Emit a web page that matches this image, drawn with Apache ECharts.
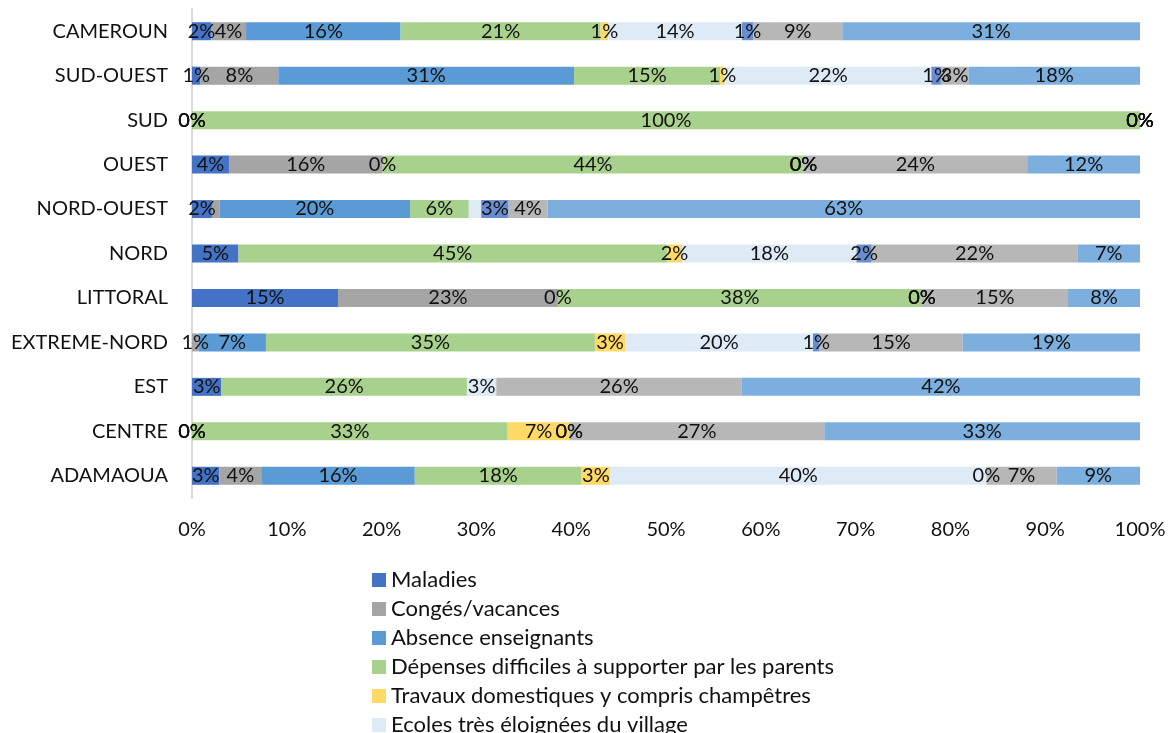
<!DOCTYPE html>
<html>
<head>
<meta charset="utf-8">
<title>Raisons d'abandon par région</title>
<script src="https://cdn.jsdelivr.net/npm/echarts@6/dist/echarts.min.js"></script>
<style>
  html, body { margin: 0; padding: 0; background: #fff; }
  #chart { width: 1170px; height: 733px; }
</style>
</head>
<body>
<div id="chart"></div>
<script>
// régions, de bas en haut
const regions = ["ADAMAOUA", "CENTRE", "EST", "EXTREME-NORD", "LITTORAL", "NORD",
  "NORD-OUEST", "OUEST", "SUD", "SUD-OUEST", "CAMEROUN"];

// parts en %, null = pas de segment
const maladies   = [2.9, 0, 3.1, null, 15.4, 4.9, 2.1, 3.9, 0, 0.9, 2.0];
const conges     = [4.4, 0, null, 0.7, 23.2, null, 0.8, 16.2, 0, 8.2, 3.7];
const absence    = [16.2, 0, null, 7.1, 0, null, 20.1, 0, 0, 31.2, 16.3];
const depenses   = [17.6, 33.3, 25.9, 34.7, 38.4, 45.2, 6.2, 44.4, 100, 15.4, 21.1];
const travaux    = [3.0, 6.5, null, 3.2, 0, 1.6, null, 0, 0, 0.5, 0.8];
const eloignees  = [39.7, 0, 3.1, 19.8, 0, 18.4, 1.3, 0, 0, 21.8, 14.1];
const autre1     = [0, 0, null, 0.7, 0, 1.6, 2.9, 0, 0, 1.0, 1.2];
const autre2     = [7.4, 26.9, 25.9, 15.1, 15.4, 21.7, 4.1, 23.6, 0, 2.9, 9.4];
const autre3     = [8.8, 33.3, 42.0, 18.7, 7.6, 6.6, 62.5, 11.9, 0, 18.1, 31.4];

const seriesNames = ["Maladies", "Congés/vacances", "Absence enseignants",
  "Dépenses difficiles à supporter par les parents",
  "Travaux domestiques y compris champêtres", "Ecoles très éloignées du village",
  "Mariage/grossesse", "Echec scolaire", "Autres"];
const seriesData = [maladies, conges, absence, depenses, travaux, eloignees, autre1, autre2, autre3];
const colors = ["#4472C4", "#A5A5A5", "#5B9BD5", "#A9D18E", "#FFD966", "#DEEBF7",
  "#698ED0", "#B7B7B7", "#7CAFDD"];
const xTicks = ["0%", "10%", "20%", "30%", "40%", "50%", "60%", "70%", "80%", "90%", "100%"];

// étiquettes masquées dans l'original : [région, index de série]
const hiddenLabels = [["NORD-OUEST", 1], ["NORD-OUEST", 5]];

const font = "Lato, 'Noto Sans', sans-serif";
const chart = echarts.init(document.getElementById("chart"));

const series = seriesData.map((arr, si) => ({
  name: seriesNames[si],
  type: "bar",
  stack: "total",
  barWidth: 18,
  itemStyle: { color: colors[si] },
  label: {
    show: true,
    position: "inside",
    color: "#111",
    fontSize: 20,
    fontFamily: font,
    formatter: (p) => Math.round(p.value) + "%",
  },
  data: arr.map((v, ci) => {
    const hide = hiddenLabels.some((h) => h[0] === regions[ci] && h[1] === si);
    return hide ? { value: v, label: { show: false } } : v;
  }),
}));

chart.setOption({
  animation: false,
  color: colors,
  grid: { left: 192, right: 30, top: 9, bottom: 235 },
  legend: {
    data: seriesNames.slice(0, 6),
    orient: "vertical",
    left: 367,
    top: 564,
    height: 400,
    itemWidth: 14,
    itemHeight: 14,
    itemGap: 7,
    icon: "rect",
    textStyle: { color: "#111", fontSize: 22, fontFamily: font },
  },
  xAxis: {
    type: "value",
    min: 0,
    max: 100,
    interval: 10,
    axisLine: { show: false },
    axisTick: { show: false },
    splitLine: { show: false },
    axisLabel: {
      color: "#111",
      fontSize: 20,
      fontFamily: font,
      margin: 22,
      formatter: (v) => xTicks[Math.round(v / 10)],
    },
  },
  yAxis: {
    type: "category",
    data: regions,
    axisLine: { show: true, lineStyle: { color: "#d9d9d9", width: 2 } },
    axisTick: { show: false },
    axisLabel: { color: "#111", fontSize: 20, fontFamily: font, margin: 24 },
  },
  series: series,
});
</script>
</body>
</html>
